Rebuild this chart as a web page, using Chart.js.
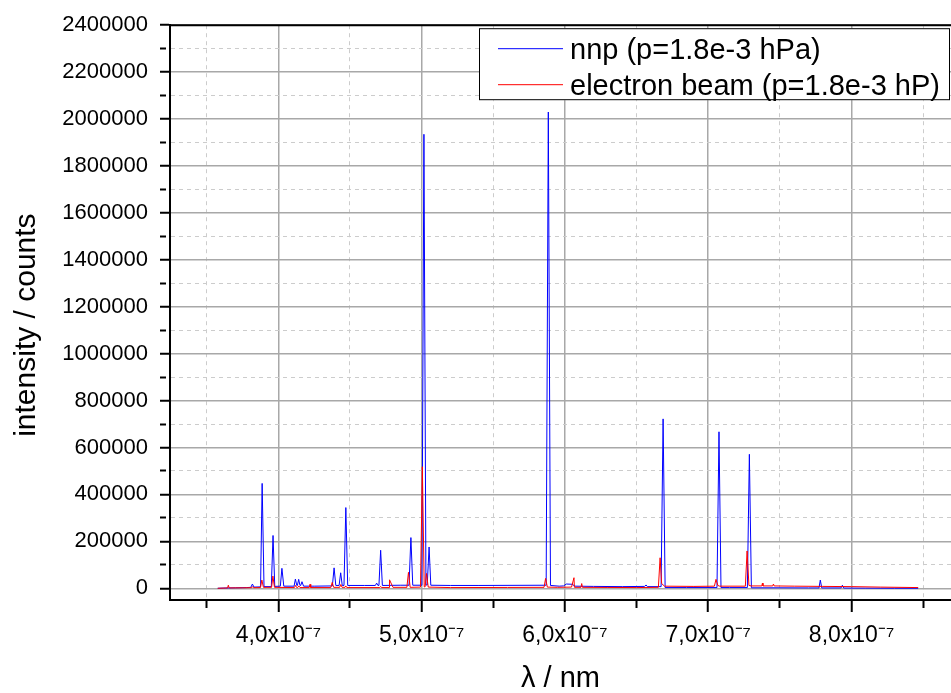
<!DOCTYPE html>
<html>
<head>
<meta charset="utf-8">
<title>nnp vs electron beam spectrum</title>
<script src="https://cdn.jsdelivr.net/npm/chart.js@4.4.1/dist/chart.umd.min.js"></script>
<style>
  html, body { margin: 0; padding: 0; background: #fff; }
  #wrap { width: 951px; height: 693px; position: relative; }
</style>
</head>
<body>
<div id="wrap"><canvas id="spectrumChart"></canvas></div>
<script>
// wavelength in nm, intensity in counts
const nnpWavelengths = [
  357.7, 362, 370, 378, 380.8, 381.9, 383.0, 387.6, 388.7, 390.0,
  395.1, 396.3, 397.5, 401.4, 402.5, 403.8, 411.0, 411.9, 412.9, 413.3,
  414.2, 415.1, 415.6, 416.5, 417.6, 425, 437.7, 438.9, 440.1, 442.4,
  443.5, 444.6, 445.8, 447.1, 448.4, 460, 467.7, 468.6, 469.5, 470.2,
  471.4, 472.6, 485, 491.2, 492.5, 493.8, 500.2, 501.6, 503.0, 503.9,
  505.2, 506.4, 520, 540, 586.9, 588.4, 589.9, 596, 599, 601,
  605, 607, 620, 640, 655.5, 656.6, 657.6, 667.1, 668.5, 669.9,
  685, 706.1, 707.5, 708.9, 715, 727.3, 728.7, 730.1, 750, 770,
  777.3, 778.2, 779.2, 792.7, 793.6, 794.5, 810, 830, 846.5
];
const nnpCounts = [
  0, 1000, 2000, 3000, 4000, 18000, 5000, 6000, 447000, 7000,
  7000, 225000, 8000, 9000, 85000, 9000, 9000, 39000, 12000, 12000,
  38000, 12000, 12000, 28000, 9000, 9000, 10000, 87000, 12000, 12000,
  66000, 12000, 12000, 344000, 12000, 12000, 12000, 22000, 12000, 12000,
  162000, 12000, 13000, 13000, 216000, 13000, 13000, 1935000, 14000, 14000,
  176000, 13000, 12000, 12000, 13000, 2030000, 12000, 9000, 10000, 18000,
  17000, 9000, 8000, 7000, 8000, 14000, 7000, 7000, 722000, 3000,
  3000, 3000, 667000, 3000, 3000, 3000, 571000, 2000, 2000, 1500,
  1500, 35000, 1500, 1500, 13000, 1000, 500, 0, 0
];

const ebeamWavelengths = [
  357.7, 363, 364.6, 365.1, 365.7, 375, 381.5, 382.0, 382.6, 387.5,
  388.5, 389.6, 395.3, 396.2, 397.3, 411.2, 412.0, 412.8, 413.5, 414.3,
  415.1, 421.6, 422.1, 422.6, 436.6, 437.6, 438.6, 442.8, 443.6, 444.5,
  446.5, 447.1, 447.8, 470.8, 471.4, 472.0, 477.3, 477.6, 480.0, 489.7,
  490.8, 492.0, 499.2, 500.5, 501.8, 502.4, 503.4, 504.6, 520, 560,
  585.4, 586.5, 587.7, 595, 604.6, 606.3, 606.6, 611.2, 611.7, 612.2,
  630, 650, 665.2, 666.4, 667.5, 669.5, 690, 704.3, 705.4, 706.7,
  708, 725.9, 727.1, 728.4, 730, 737.4, 737.8, 738.2, 745.0, 745.5,
  746.0, 760, 780, 800, 820, 846.5
];
const ebeamCounts = [
  0, 1000, 1500, 13000, 1500, 2000, 2500, 7000, 2500, 3000,
  35000, 4000, 4000, 52000, 4000, 3000, 12000, 3000, 3000, 10000,
  3000, 3000, 17000, 3000, 3000, 25000, 4000, 4000, 16000, 4000,
  4000, 10000, 3000, 3000, 8000, 3000, 3000, 36000, 4000, 4000,
  68000, 4000, 5000, 518000, 6000, 6000, 63000, 5000, 3000, 3500,
  4000, 42000, 5000, 4000, 5000, 45000, 4000, 4000, 20000, 4000,
  3500, 3000, 4000, 130000, 20000, 9000, 8000, 9000, 38000, 12000,
  9000, 9000, 159000, 12000, 10000, 10000, 22000, 10000, 10000, 18000,
  10000, 9000, 8000, 7000, 5000, 3000
];

const seriesNames = ['nnp (p=1.8e-3 hPa)', 'electron beam (p=1.8e-3 hP)'];
const seriesColors = ['#0000ff', '#ff0000'];

const xMajorTicks = [400, 500, 600, 700, 800];
const xMinorTicks = [350, 450, 550, 650, 750, 850];
const xTickLabels = ['4,0x10\u207B\u2077', '5,0x10\u207B\u2077', '6,0x10\u207B\u2077', '7,0x10\u207B\u2077', '8,0x10\u207B\u2077'];

const yMajorTicks = [0, 200000, 400000, 600000, 800000, 1000000, 1200000, 1400000, 1600000, 1800000, 2000000, 2200000, 2400000];
const yMinorTicks = [100000, 300000, 500000, 700000, 900000, 1100000, 1300000, 1500000, 1700000, 1900000, 2100000, 2300000];

const FONT = "'Liberation Sans', Arial, sans-serif";
Chart.defaults.font.family = FONT;
Chart.defaults.color = '#000';

function toPoints(xs, ys) {
  return xs.map((x, i) => ({ x: x, y: ys[i] }));
}

function isMajorX(v) { return xMajorTicks.indexOf(v) !== -1; }
function isMajorY(v) { return yMajorTicks.indexOf(v) !== -1; }

function setTicks(major, minor) {
  return (scale) => {
    scale.ticks = major.concat(minor).sort((a, b) => a - b).map(v => ({ value: v }));
  };
}

// legend box and top frame line drawn inside the plot area
const frameAndLegend = {
  id: 'frameAndLegend',
  afterDraw(chart) {
    const ctx = chart.ctx;
    const a = chart.chartArea;
    ctx.save();
    ctx.strokeStyle = '#000';
    ctx.lineWidth = 2;
    ctx.beginPath();
    ctx.moveTo(a.left - 1, a.top);
    ctx.lineTo(a.right, a.top);
    ctx.stroke();

    const bx = a.right - 472, by = a.top + 3, bw = 471, bh = 72;
    ctx.fillStyle = '#fff';
    ctx.fillRect(bx, by, bw, bh);
    ctx.lineWidth = 1;
    ctx.strokeRect(bx + 0.5, by + 0.5, bw - 1, bh - 1);

    ctx.font = '29px ' + FONT;
    ctx.textBaseline = 'alphabetic';
    ctx.textAlign = 'left';
    seriesNames.forEach((name, i) => {
      const ly = by + 20 + i * 36;
      ctx.strokeStyle = seriesColors[i];
      ctx.lineWidth = 1;
      ctx.beginPath();
      ctx.moveTo(bx + 19, ly + 0.5);
      ctx.lineTo(bx + 84, ly + 0.5);
      ctx.stroke();
      ctx.fillStyle = '#000';
      ctx.fillText(name, bx + 91, ly + 11);
    });
    ctx.restore();
  }
};

const ctx = document.getElementById('spectrumChart').getContext('2d');
new Chart(ctx, {
  type: 'line',
  data: {
    datasets: [
      {
        label: seriesNames[0],
        data: toPoints(nnpWavelengths, nnpCounts),
        borderColor: seriesColors[0],
        borderWidth: 1,
        pointRadius: 0,
        tension: 0,
        order: 1
      },
      {
        label: seriesNames[1],
        data: toPoints(ebeamWavelengths, ebeamCounts),
        borderColor: seriesColors[1],
        borderWidth: 1,
        pointRadius: 0,
        tension: 0,
        order: 0
      }
    ]
  },
  options: {
    responsive: true,
    maintainAspectRatio: false,
    animation: false,
    layout: { padding: { top: 21, right: 0, left: 0, bottom: 0 } },
    plugins: {
      legend: { display: false },
      tooltip: { enabled: false }
    },
    scales: {
      x: {
        type: 'linear',
        min: 324.4,
        max: 869.4,
        afterBuildTicks: setTicks(xMajorTicks, xMinorTicks),
        afterFit: (scale) => { scale.height = 93; },
        ticks: {
          autoSkip: false,
          maxRotation: 0,
          padding: 10,
          font: { size: 23 },
          callback: (v) => isMajorX(v) ? xTickLabels[xMajorTicks.indexOf(v)] : ''
        },
        grid: {
          color: (c) => (c.tick && isMajorX(c.tick.value)) ? '#a8a8a8' : '#cccccc',
          lineWidth: (c) => (c.tick && isMajorX(c.tick.value)) ? 1.5 : 1,
          tickColor: '#000',
          tickWidth: 2,
          tickLength: 12,
          tickBorderDash: (c) => (c.tick && isMajorX(c.tick.value)) ? [] : [7, 40]
        },
        border: {
          color: '#000',
          width: 2,
          dash: (c) => (c.tick && !isMajorX(c.tick.value)) ? [4, 4] : []
        },
        title: {
          display: true,
          text: '\u03BB / nm',
          font: { size: 29 },
          padding: { top: 0, bottom: -3 }
        }
      },
      y: {
        min: -50000,
        max: 2400000,
        afterBuildTicks: setTicks(yMajorTicks, yMinorTicks),
        afterFit: (scale) => { scale.width = 170; },
        ticks: {
          autoSkip: false,
          padding: 12,
          font: { size: 22 },
          callback: (v) => isMajorY(v) ? String(v) : ''
        },
        grid: {
          color: (c) => (c.tick && isMajorY(c.tick.value)) ? '#a8a8a8' : '#cccccc',
          lineWidth: (c) => (c.tick && isMajorY(c.tick.value)) ? 1.5 : 1,
          tickColor: '#000',
          tickWidth: 2,
          tickLength: 10,
          tickBorderDash: (c) => (c.tick && isMajorY(c.tick.value)) ? [] : [6, 40]
        },
        border: {
          color: '#000',
          width: 2,
          dash: (c) => (c.tick && !isMajorY(c.tick.value)) ? [4, 4] : []
        },
        title: {
          display: true,
          text: 'intensity / counts   ',
          font: { size: 30 },
          padding: { top: 9, bottom: 0 }
        }
      }
    }
  },
  plugins: [frameAndLegend]
});
</script>
</body>
</html>
